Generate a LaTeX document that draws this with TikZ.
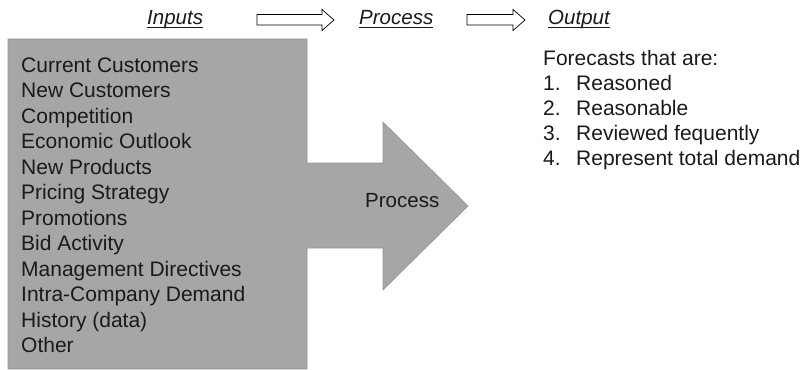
\documentclass[tikz,border=0pt]{standalone}
\usepackage{fontspec}
\setmainfont{Liberation Sans}
\definecolor{shapegray}{HTML}{A6A6A6}
\definecolor{edgegray}{HTML}{959595}
\definecolor{txt}{HTML}{1A1A1A}
\begin{document}
\begin{tikzpicture}[x=1pt,y=-1pt,
  txtfont/.style={font=\fontsize{20.5}{25}\selectfont, text=txt, inner sep=0pt},
  lbl/.style={txtfont, anchor=base west},
  listlbl/.style={lbl, font=\fontsize{21}{25}\selectfont},
  hdr/.style={txtfont, anchor=base west, font=\fontsize{20.5}{25}\selectfont\itshape},
  blockarrow/.style={draw=black, fill=white, line width=0.7pt, line join=miter},
  uline/.style={draw=txt, line width=0.8pt}]
\useasboundingbox (0,0) rectangle (802,369);

% big input box with process arrow
\path[fill=shapegray, draw=edgegray, line width=0.6pt]
  (8,39) -- (307,39) -- (307,163) -- (383,163) -- (383,122) -- (468,206)
  -- (383,290) -- (383,248) -- (307,248) -- (307,369) -- (8,369) -- cycle;

% headers
\node[hdr] (hin) at (147,25) {Inputs};
\node[hdr] (hpr) at (359,25) {Process};
\node[hdr] (hout) at (548,25) {Output};
\foreach \n in {hin,hpr,hout}{
  \draw[uline] ([yshift=-2.6pt]\n.base west) -- ([yshift=-2.6pt]\n.base east);
}

% header block arrows
\draw[blockarrow] (257,14.5) -- (322,14.5) -- (322,9.5) -- (334,20) -- (322,30.5) -- (322,25) -- (257,25) -- cycle;
\draw[blockarrow] (467,14.5) -- (513,14.5) -- (513,9.5) -- (525,20) -- (513,30.5) -- (513,25) -- (467,25) -- cycle;

% input list
\foreach \t [count=\i] in {Current Customers,New Customers,Competition,Economic Outlook,New Products,Pricing Strategy,Promotions,Bid Activity,Management Directives,Intra-Company Demand,History (data),Other}{
  \node[listlbl] (in\i) at (21,{72+(\i-1)*25.5}) {\t};
}

% process label
\node[lbl] (proc) at (365,207) {Process};

% output list
\node[listlbl] (fc) at (543,65) {Forecasts that are:};
\foreach \t [count=\i] in {Reasoned,Reasonable,Reviewed fequently,Represent total demand}{
  \node[listlbl] (num\i) at (543,{65+\i*25}) {\i.};
  \node[listlbl] (out\i) at (576,{65+\i*25}) {\t};
}
\end{tikzpicture}
\end{document}
